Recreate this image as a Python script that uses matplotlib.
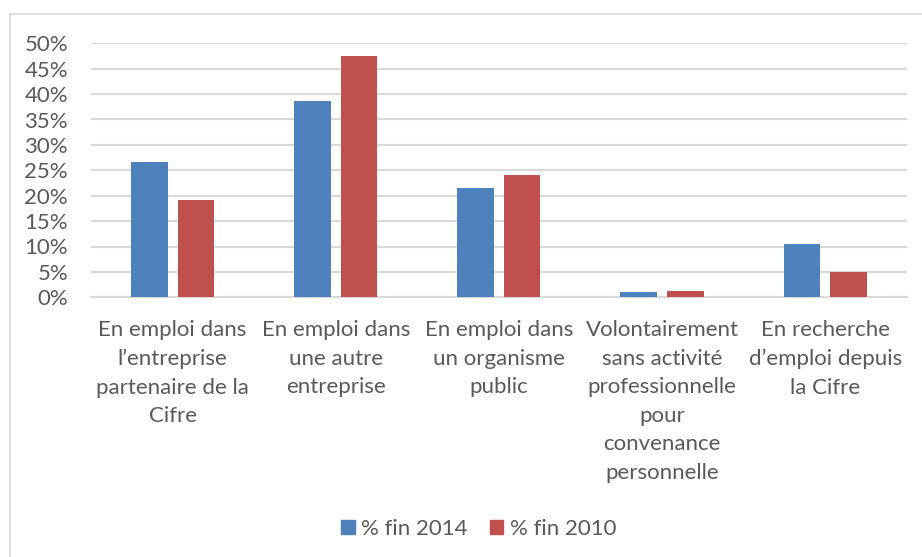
import matplotlib
matplotlib.use("Agg")
import matplotlib.pyplot as plt
import numpy as np
from matplotlib.lines import Line2D

categories = [
    "En emploi dans\nl\u2019entreprise\npartenaire de la\nCifre",
    "En emploi dans\nune autre\nentreprise",
    "En emploi dans\nun organisme\npublic",
    "Volontairement\nsans activité\nprofessionnelle\npour\nconvenance\npersonnelle",
    "En recherche\nd\u2019emploi depuis\nla Cifre",
]
series_names = ["% fin 2014", "% fin 2010"]
values_2014 = [0.266, 0.387, 0.215, 0.010, 0.105]
values_2010 = [0.192, 0.475, 0.241, 0.012, 0.049]
yticks = [0, 0.05, 0.10, 0.15, 0.20, 0.25, 0.30, 0.35, 0.40, 0.45, 0.50]

blue = "#4F81BD"
red = "#C0504D"
grid = "#D9D9D9"
txt = "#595959"

plt.rcParams["font.family"] = ["Lato", "DejaVu Sans"]

fig = plt.figure(figsize=(9.22, 5.57), dpi=100)
ax = fig.add_axes([91/922, 1-297.3/557, (906.7-91)/922, (297.3-43.3)/557])

x = np.arange(len(categories))
w = 0.224
off = 0.143
ax.bar(x - off, values_2014, width=w, color=blue, label=series_names[0], zorder=3)
ax.bar(x + off, values_2010, width=w, color=red, label=series_names[1], zorder=3)

ax.set_xlim(-0.5, len(categories) - 0.5)
ax.set_ylim(0, 0.5)
ax.set_yticks(yticks)
ax.set_yticklabels([f"{int(round(v*100))}%" for v in yticks])
ax.yaxis.grid(True, color=grid, linewidth=1.5, zorder=0)
ax.set_axisbelow(True)
for s in ["top", "right", "left"]:
    ax.spines[s].set_visible(False)
ax.spines["bottom"].set_color(grid)
ax.spines["bottom"].set_linewidth(1.5)
ax.tick_params(axis="y", length=0, pad=16.5, labelsize=16, labelcolor=txt)
ax.tick_params(axis="x", length=0, pad=16.5, labelsize=16, labelcolor=txt)
ax.set_xticks(x)
ax.set_xticklabels(categories, va="top", ha="center")
for t in ax.get_xticklabels():
    t.set_linespacing(1.53)

handles = [plt.Rectangle((0, 0), 1, 1, color=blue), plt.Rectangle((0, 0), 1, 1, color=red)]
fig.legend(handles, series_names, loc="center", bbox_to_anchor=(479/922, 1-529/557),
           ncol=2, frameon=False, fontsize=16, labelcolor=txt,
           handlelength=0.6, handleheight=0.6, handletextpad=0.3, columnspacing=1.0)

# chart area border (top and left)
fig.add_artist(Line2D([10/922, 1], [1-14/557, 1-14/557], color=grid, linewidth=1.2, transform=fig.transFigure))
fig.add_artist(Line2D([10/922, 10/922], [0, 1-14/557], color=grid, linewidth=1.2, transform=fig.transFigure))

fig.savefig("out.png", dpi=100, facecolor="white")
